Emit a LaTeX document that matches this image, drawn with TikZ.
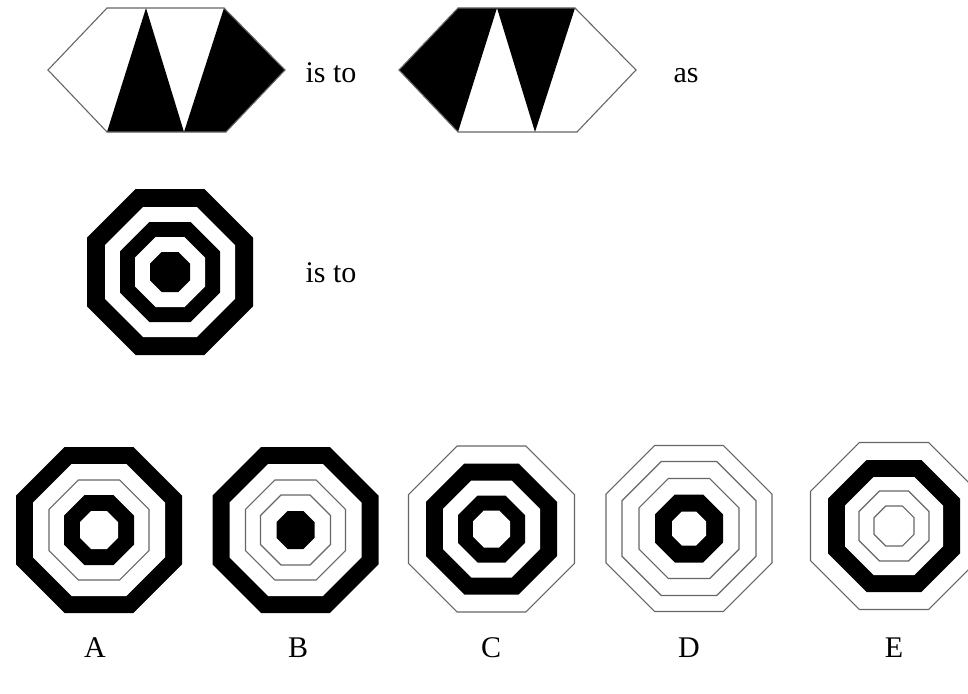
\documentclass[tikz,border=0pt]{standalone}
\usepackage{fontspec}
\setmainfont{Liberation Serif}
\tikzset{
  bk/.style={fill=black},
  wt/.style={fill=white},
  wl/.style={fill=white, draw=black!60, line width=1.1pt, line join=miter},
  hexline/.style={draw=black!60, line width=1.1pt, line join=miter},
  lbl/.style={anchor=base, inner sep=0pt, font=\fontsize{30}{32}\selectfont}
}
\newcommand\octg[3]{%
  \pgfmathsetmacro\octR{#3*1.0824}%
  \path[#1,shift={(#2)}] (22.5:\octR) -- (67.5:\octR) -- (112.5:\octR) -- (157.5:\octR)
    -- (202.5:\octR) -- (247.5:\octR) -- (292.5:\octR) -- (337.5:\octR) -- cycle;}
\begin{document}
\begin{tikzpicture}[x=1pt,y=-1pt]
\useasboundingbox (0,0) rectangle (968,693);
\fill[white] (0,0) rectangle (968,693);
% hexagon 1
\fill[black] (107,132) -- (146,8) -- (184,132) -- cycle;
\fill[black] (184,132) -- (224,8) -- (285,70) -- (226,132) -- cycle;
\draw[hexline] (48,70) -- (107,8) -- (224,8) -- (285,70) -- (226,132) -- (107,132) -- cycle;
% hexagon 2
\fill[black] (399,70) -- (458,8) -- (497,8) -- (458,132) -- cycle;
\fill[black] (497,8) -- (575,8) -- (535,132) -- cycle;
\draw[hexline] (399,70) -- (458,8) -- (575,8) -- (636,70) -- (577,132) -- (458,132) -- cycle;
\node[lbl] (is1) at (331,82) {is to};
\node[lbl] (as) at (686,82) {as};
% main octagon
\coordinate (m) at (170,272);
\octg{bk}{m}{83}\octg{wt}{m}{65}\octg{bk}{m}{50}\octg{wt}{m}{35}\octg{bk}{m}{20}
\node[lbl] (is2) at (331,282) {is to};
% option A
\coordinate (a) at (99,530);
\octg{bk}{a}{83}\octg{wt}{a}{66}\octg{wl}{a}{50}\octg{bk}{a}{35}\octg{wt}{a}{19}
% option B
\coordinate (b) at (295.5,530);
\octg{bk}{b}{83}\octg{wt}{b}{66}\octg{wl}{b}{50}\octg{wl}{b}{35}\octg{bk}{b}{19}
% option C
\coordinate (c) at (491.5,529);
\octg{wl}{c}{83}\octg{bk}{c}{65.5}\octg{wt}{c}{48.5}\octg{bk}{c}{33.5}\octg{wt}{c}{18.5}
% option D
\coordinate (d) at (689,528.5);
\octg{wl}{d}{83}\octg{wl}{d}{67}\octg{wl}{d}{50}\octg{bk}{d}{34}\octg{wt}{d}{17}
% option E
\coordinate (e) at (894,526);
\octg{wl}{e}{83.5}\octg{bk}{e}{66}\octg{wt}{e}{49}\octg{wl}{e}{35}\octg{wl}{e}{20}
% labels
\node[lbl] (la) at (95,657) {A};
\node[lbl] (lb) at (298,657) {B};
\node[lbl] (lc) at (491,657) {C};
\node[lbl] (ld) at (689,657) {D};
\node[lbl] (le) at (894,657) {E};
\end{tikzpicture}
\end{document}
